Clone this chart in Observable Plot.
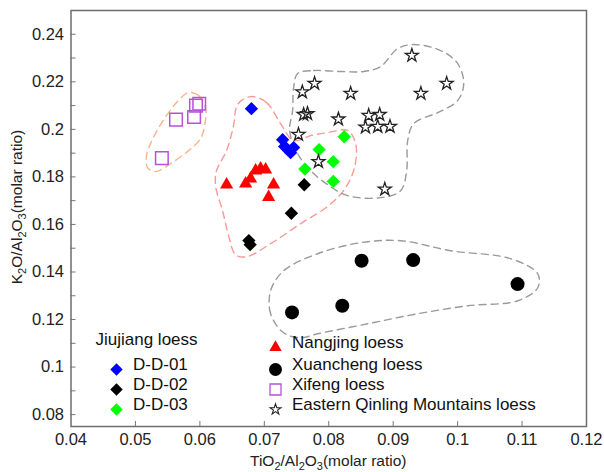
<!DOCTYPE html>
<html><head><meta charset="utf-8">
<script src="https://cdn.jsdelivr.net/npm/d3@7"></script>
<script src="https://cdn.jsdelivr.net/npm/@observablehq/plot@0.6"></script>
<style>
body{margin:0;background:#fff;}
#chart{width:604px;height:472px;}
</style></head><body><div id="chart"></div>
<script>
// ---- data ----
const xTicks = [0.04, 0.05, 0.06, 0.07, 0.08, 0.09, 0.1, 0.11, 0.12];
const yTicks = [0.08, 0.1, 0.12, 0.14, 0.16, 0.18, 0.2, 0.22, 0.24];
const yMinorTicks = [0.09, 0.11, 0.13, 0.15, 0.17, 0.19, 0.21, 0.23];

const dd01 = [[0.0680,0.2087],[0.07284,0.19568],[0.07315,0.19274],[0.07408,0.19021],[0.07455,0.19232]];
const dd02 = [[0.0762,0.1767],[0.0742,0.1647],[0.0676,0.1532],[0.0678,0.1515]];
const dd03 = [[0.0824,0.1969],[0.0785,0.1915],[0.0807,0.1864],[0.0763,0.1833],[0.0807,0.1781]];
const nanjing = [[0.06415,0.17674],[0.06710,0.17716],[0.06787,0.17926],[0.06865,0.18263],[0.06942,0.18347],[0.07020,0.18305],[0.07144,0.17674],[0.07067,0.17147]];
const xuancheng = [[0.0851,0.1447],[0.0931,0.1450],[0.1093,0.1349],[0.0821,0.1258],[0.0743,0.1230]];
const xifeng = [[0.0541,0.1879],[0.0563,0.2041],[0.0591,0.2052],[0.0594,0.2100],[0.0599,0.2108]];
const qinling = [[0.0929,0.2311],[0.0983,0.2193],[0.0943,0.2151],[0.0778,0.2193],[0.0759,0.2157],[0.0834,0.2151],
  [0.0761,0.2062],[0.0767,0.2066],[0.0815,0.2043],[0.0862,0.2058],[0.0879,0.2062],[0.0857,0.2009],[0.0876,0.2012],
  [0.0895,0.2012],[0.0753,0.1978],[0.0784,0.1864],[0.0887,0.1748]];

// enclosing outlines (data units)
const hullXifeng = [[0.05825,0.21547],[0.05980,0.21421],[0.06089,0.20874],[0.06073,0.20158],[0.06011,0.19611],[0.05825,0.19105],
  [0.05545,0.18558],[0.05312,0.18221],[0.05188,0.18389],[0.05172,0.18895],[0.05234,0.19400],[0.05390,0.20200],[0.05638,0.21126]];
const hullJiujiang = [[0.06787,0.21379],[0.07036,0.21126],[0.07253,0.20242],[0.07455,0.19526],[0.07719,0.19737],[0.07983,0.19863],
  [0.08294,0.19947],[0.08418,0.19400],[0.08400,0.18400],[0.08250,0.17500],[0.08000,0.16800],[0.07564,0.16032],[0.07098,0.15189],
  [0.06725,0.14642],[0.06554,0.14726],[0.06446,0.15526],[0.06352,0.16579],[0.06243,0.17632],[0.06259,0.18263],[0.06414,0.19105],
  [0.06523,0.20158],[0.06585,0.21042]];
const hullQinling = [[0.07517,0.22347],[0.07765,0.22474],[0.08185,0.22432],[0.08542,0.22432],[0.08806,0.22642],[0.09070,0.23400],
  [0.09318,0.23568],[0.09737,0.23316],[0.10001,0.22768],[0.10095,0.21926],[0.10001,0.21211],[0.09691,0.20705],[0.09318,0.20242],
  [0.09225,0.19526],[0.09209,0.18263],[0.09116,0.17421],[0.08806,0.17126],[0.08294,0.17211],[0.07983,0.17674],[0.07719,0.18263],
  [0.07517,0.18979],[0.07393,0.19947],[0.07439,0.20789],[0.07455,0.21758]];
const hullXuancheng = [[0.07300,0.11442],[0.07098,0.12242],[0.07098,0.13211],[0.07300,0.14053],[0.07828,0.14768],[0.08495,0.15232],
  [0.09116,0.15316],[0.09892,0.14895],[0.10824,0.14558],[0.11243,0.13926],[0.11243,0.13337],[0.10933,0.12789],[0.10157,0.12579],
  [0.09380,0.12242],[0.08604,0.11821],[0.07828,0.11400],[0.07564,0.11232]];

const legendTitle = "Jiujiang loess";
const legendLeft = ["D-D-01", "D-D-02", "D-D-03"];
const legendRight = ["Nangjing loess", "Xuancheng loess", "Xifeng loess", "Eastern Qinling Mountains loess"];

// ---- layout / style ----
const W = 604, H = 472;
const mL = 70.5, mR = 18, mT = 10, mB = 46;
const innerW = W - mL - mR, innerH = H - mT - mB;
const FONT = "'Liberation Sans', Arial, sans-serif";
const LEG_FS = 17, TICK_FS = 16.5;

const styles = [
  {data: dd01, symbol: "diamond2", fill: "#0000ff", stroke: "none", r: 6},
  {data: dd02, symbol: "diamond2", fill: "#000000", stroke: "none", r: 6},
  {data: dd03, symbol: "diamond2", fill: "#00ff00", stroke: "none", r: 6},
  {data: nanjing, symbol: "triangle", fill: "#ff0000", stroke: "none", r: 4.9},
  {data: xuancheng, symbol: "circle", fill: "#000000", stroke: "none", r: 7},
  {data: xifeng, symbol: "square", fill: "none", stroke: "#b452d8", r: 7.1, sw: 1.5},
  {data: qinling, symbol: "star", fill: "none", stroke: "#222", r: 4.1, sw: 1.3}
];

const hulls = [
  {data: hullXifeng, stroke: "#f8b48c"},
  {data: hullJiujiang, stroke: "#f79a96"},
  {data: hullQinling, stroke: "#9a9a9a"},
  {data: hullXuancheng, stroke: "#9a9a9a"}
];

const marks = [];
for (const h of hulls) {
  marks.push(Plot.line(h.data, {x: d => d[0], y: d => d[1], curve: "catmull-rom-closed",
    stroke: h.stroke, strokeWidth: 1.4, strokeDasharray: "7,5"}));
}
for (const s of styles) {
  marks.push(Plot.dot(s.data, {x: d => d[0], y: d => d[1], symbol: s.symbol, r: s.r,
    fill: s.fill, stroke: s.stroke, strokeWidth: s.sw || 1}));
}
// inward ticks
marks.push(Plot.tickX(xTicks.slice(1, -1), {x: d => d, insetTop: innerH - 5, stroke: "#777", strokeWidth: 1}));
marks.push(Plot.tickY(yTicks, {y: d => d, insetRight: innerW - 5, stroke: "#777", strokeWidth: 1}));
marks.push(Plot.tickY(yMinorTicks, {y: d => d, insetRight: innerW - 5, stroke: "#777", strokeWidth: 1}));
// tick labels as text marks anchored to the frame edges
marks.push(Plot.text(xTicks, {x: d => d, frameAnchor: "bottom", dy: 18, text: d => String(d), fontSize: TICK_FS, fill: "#222"}));
marks.push(Plot.text(yTicks, {y: d => d, frameAnchor: "left", dx: -7, textAnchor: "end", text: d => String(d), fontSize: TICK_FS, fill: "#222"}));
marks.push(Plot.frame({stroke: "#6e6e6e", strokeWidth: 1.5}));

// legend (anchored to bottom-left of frame)
const legSyms = [
  {symbol: "diamond2", fill: "#0000ff", stroke: "none", r: 5.6},
  {symbol: "diamond2", fill: "#000000", stroke: "none", r: 5.6},
  {symbol: "diamond2", fill: "#00ff00", stroke: "none", r: 5.6}
];
const legSymsR = [
  {symbol: "triangle", fill: "#ff0000", stroke: "none", r: 4.6},
  {symbol: "circle", fill: "#000000", stroke: "none", r: 6.5},
  {symbol: "square", fill: "none", stroke: "#b452d8", r: 6.2, sw: 1.3},
  {symbol: "star", fill: "none", stroke: "#222", r: 3.4, sw: 1.1}
];
const rowDy = [-57, -37, -17];
const rowDyR = [-79, -57, -37, -17];
marks.push(Plot.text([legendTitle], {frameAnchor: "bottom-left", dx: 24.5, dy: -82, text: d => d, textAnchor: "start", fontSize: LEG_FS, fill: "#111"}));
legendLeft.forEach((lab, i) => {
  const s = legSyms[i];
  marks.push(Plot.dot([lab], {frameAnchor: "bottom-left", dx: 45.5, dy: rowDy[i], symbol: s.symbol, r: s.r, fill: s.fill, stroke: s.stroke}));
  marks.push(Plot.text([lab], {frameAnchor: "bottom-left", dx: 62, dy: rowDy[i], text: d => d, textAnchor: "start", fontSize: LEG_FS, fill: "#111"}));
});
legendRight.forEach((lab, i) => {
  const s = legSymsR[i];
  marks.push(Plot.dot([lab], {frameAnchor: "bottom-left", dx: 204.5, dy: rowDyR[i], symbol: s.symbol, r: s.r, fill: s.fill, stroke: s.stroke, strokeWidth: s.sw || 1}));
  marks.push(Plot.text([lab], {frameAnchor: "bottom-left", dx: 221, dy: rowDyR[i], text: d => d, textAnchor: "start", fontSize: LEG_FS, fill: "#111"}));
});

const plot = Plot.plot({
  width: W, height: H,
  marginLeft: mL, marginRight: mR, marginTop: mT, marginBottom: mB,
  x: {domain: [0.04, 0.12], axis: null},
  y: {domain: [0.075, 0.25], axis: null},
  style: {fontFamily: FONT, fontSize: TICK_FS + "px", background: "#fff", overflow: "visible"},
  marks
});
document.getElementById("chart").appendChild(plot);

// axis titles with subscripts
const svg = d3.select(plot);
const xr = plot.scale("x").range;
function title(sel, parts, subFs) {
  for (const [t, sub] of parts) {
    const ts = sel.append("tspan").text(t);
    if (sub) ts.attr("font-size", subFs).attr("dy", 3.5);
    else ts.attr("dy", sel.node().childNodes.length > 1 ? -3.5 : 0);
  }
}
const xt = svg.append("text").attr("x", (xr[0] + xr[1]) / 2).attr("y", 466)
  .attr("text-anchor", "middle").attr("font-size", 15.5).attr("fill", "#222").attr("font-family", FONT);
title(xt, [["TiO"], ["2", 1], ["/Al"], ["2", 1], ["O"], ["3", 1], ["(molar ratio)"]], 11);
const ycx = 22, ycy = 207;
const yt = svg.append("text").attr("transform", `translate(${ycx},${ycy}) rotate(-90)`)
  .attr("text-anchor", "middle").attr("font-size", 15.5).attr("fill", "#222").attr("font-family", FONT);
title(yt, [["K"], ["2", 1], ["O/Al"], ["2", 1], ["O"], ["3", 1], ["(molar ratio)"]], 11);
</script></body></html>
